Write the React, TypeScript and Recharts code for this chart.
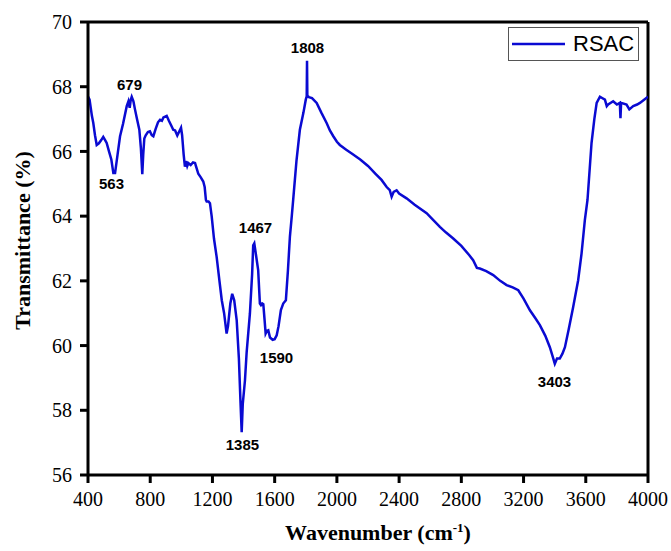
import React from "react";
import { LineChart, Line, XAxis, YAxis, ReferenceLine, ReferenceDot } from "recharts";

const wavenumbers = [400,410,425,434,445,456,470,485,498,510,520,535,550,563,574,590,606,625,649,660,668,675,681,692,702,715,730,740,749,755,762,771,785,798,810,820,835,850,863,875,885,906,920,935,948,960,974,985,998,1005,1015,1023,1030,1038,1045,1060,1075,1088,1100,1109,1125,1141,1150,1158,1163,1175,1184,1195,1210,1227,1245,1260,1275,1291,1300,1315,1327,1340,1356,1370,1380,1388,1395,1409,1420,1441,1455,1462,1469,1480,1494,1505,1512,1520,1527,1535,1542,1550,1559,1570,1587,1600,1613,1625,1640,1655,1672,1685,1698,1710,1719,1740,1762,1785,1800,1806,1808,1810,1820,1840,1870,1900,1934,1955,1977,2000,2019,2060,2100,2150,2200,2250,2287,2320,2340,2352,2365,2384,2400,2448,2500,2577,2620,2662,2700,2748,2800,2850,2876,2900,2919,2960,3005,3050,3091,3130,3166,3200,3241,3275,3305,3340,3369,3385,3401,3415,3433,3450,3466,3490,3519,3551,3573,3594,3611,3637,3655,3670,3691,3705,3723,3735,3744,3776,3800,3819,3823,3827,3862,3880,3905,3930,3948,3975,4000];

const transmittance = [67.7,67.6,67.1,66.88,66.5,66.2,66.25,66.35,66.45,66.35,66.26,66.0,65.75,65.33,65.33,65.9,66.47,66.85,67.4,67.55,67.35,67.6,67.69,67.55,67.3,67.0,66.67,66.1,65.3,65.9,66.4,66.5,66.6,66.62,66.5,66.47,66.7,66.9,66.98,66.95,67.05,67.1,66.95,66.8,66.67,66.65,66.49,66.6,66.73,66.5,65.9,65.53,65.7,65.55,65.64,65.58,65.66,65.64,65.45,65.31,65.2,65.07,64.9,64.5,64.45,64.45,64.4,64.0,63.3,62.74,62.0,61.4,61.0,60.37,60.6,61.3,61.6,61.4,60.78,59.6,58.3,57.32,58.2,58.92,59.8,61.0,62.2,63.1,63.16,62.8,62.33,61.3,61.25,61.3,61.28,60.8,60.37,60.45,60.47,60.25,60.18,60.2,60.32,60.6,61.1,61.3,61.4,62.3,63.37,64.0,64.5,65.7,66.67,67.2,67.6,67.7,68.8,67.72,67.68,67.65,67.5,67.2,66.88,66.65,66.47,66.3,66.2,66.05,65.92,65.75,65.55,65.3,65.12,64.9,64.8,64.6,64.75,64.8,64.7,64.55,64.35,64.09,63.88,63.67,63.5,63.31,63.08,62.8,62.64,62.4,62.38,62.3,62.18,62.0,61.87,61.8,61.71,61.45,61.09,60.85,60.63,60.3,59.95,59.7,59.44,59.6,59.6,59.75,59.95,60.5,61.19,62.02,62.85,63.88,64.5,66.26,67.0,67.5,67.69,67.65,67.6,67.4,67.45,67.55,67.45,67.5,67.03,67.5,67.45,67.3,67.4,67.45,67.5,67.6,67.69];

const xTicks = [400, 800, 1200, 1600, 2000, 2400, 2800, 3200, 3600, 4000];
const yTicks = [56, 58, 60, 62, 64, 66, 68, 70];

const peakLabels = ["563", "679", "1385", "1467", "1590", "1808", "3403"];
const peakLabelX = [551, 667, 1393, 1477, 1612, 1811, 3399];
const peakLabelY = [64.99, 68.06, 56.93, 63.63, 59.63, 69.21, 58.88];

const seriesName = "RSAC";

const data = wavenumbers.map((w, i) => ({ w, t: transmittance[i] }));

const SERIF = '"Liberation Serif", "Times New Roman", serif';
const SANS = '"Liberation Sans", Arial, sans-serif';
const BLUE = "#0a0ad2";

const XTitle = (props: any) => {
  const vb = props.viewBox || {};
  const cx = vb.x + vb.width / 2 + 10;
  return (
    <text x={cx} y={540} textAnchor="middle" fontFamily={SERIF} fontWeight="bold" fontSize={22} fill="#000">
      <tspan>Wavenumber (cm</tspan>
      <tspan dy={-8} fontSize={13}>-1</tspan>
      <tspan dy={8}>)</tspan>
    </text>
  );
};

const YTitle = (props: any) => {
  const vb = props.viewBox || {};
  const cy = vb.y + vb.height / 2 - 8;
  return (
    <text x={22} y={cy} textAnchor="middle" dominantBaseline="central" transform={`rotate(-90, 22, ${cy})`} fontFamily={SERIF} fontWeight="bold" fontSize={22} fill="#000">
      Transmittance (%)
    </text>
  );
};

const LegendBox = () => (
  <div style={{ position: "absolute", left: 508, top: 27, width: 131, height: 34, border: "1px solid #555", boxSizing: "border-box", background: "#fff", display: "flex", alignItems: "center" }}>
    <svg width={56} height={10} style={{ marginLeft: 3 }}>
      <line x1={0} y1={5} x2={53} y2={5} stroke={BLUE} strokeWidth={2.5} />
    </svg>
    <span style={{ fontFamily: SANS, fontSize: 22, color: "#000", marginLeft: 5, lineHeight: "22px" }}>{seriesName}</span>
  </div>
);

export default function App() {
  return (
    <div style={{ position: "absolute", left: 0, top: 0, width: 671, height: 551 }}>
      <LineChart width={671} height={551} data={data} margin={{ top: 22, right: 23, bottom: 0, left: 0 }}>
        <XAxis
          dataKey="w"
          type="number"
          domain={[400, 4000]}
          ticks={xTicks}
          allowDataOverflow
          height={76}
          tickSize={8}
          tickMargin={9}
          axisLine={{ stroke: "#000", strokeWidth: 3 }}
          tickLine={{ stroke: "#000", strokeWidth: 3 }}
          tick={{ fill: "#000", fontFamily: SERIF, fontSize: 20 }}
          label={<XTitle />}
        />
        <YAxis
          type="number"
          domain={[56, 70]}
          ticks={yTicks}
          allowDataOverflow
          width={88}
          tickSize={8}
          tickMargin={8}
          axisLine={{ stroke: "#000", strokeWidth: 3 }}
          tickLine={{ stroke: "#000", strokeWidth: 3 }}
          tick={{ fill: "#000", fontFamily: SERIF, fontSize: 20 }}
          label={<YTitle />}
        />
        <ReferenceLine y={70} stroke="#000" strokeWidth={3} ifOverflow="visible" />
        <ReferenceLine x={4000} stroke="#000" strokeWidth={3} ifOverflow="visible" />
        <Line
          type="linear"
          dataKey="t"
          name={seriesName}
          stroke={BLUE}
          strokeWidth={2.5}
          dot={false}
          isAnimationActive={false}
        />
        {peakLabels.map((lab, i) => (
          <ReferenceDot
            key={lab}
            x={peakLabelX[i]}
            y={peakLabelY[i]}
            r={0}
            fill="none"
            stroke="none"
            ifOverflow="visible"
            label={{ value: lab, position: "center", fill: "#000", fontFamily: SANS, fontWeight: "bold", fontSize: 15 }}
          />
        ))}
      </LineChart>
      <LegendBox />
    </div>
  );
}
